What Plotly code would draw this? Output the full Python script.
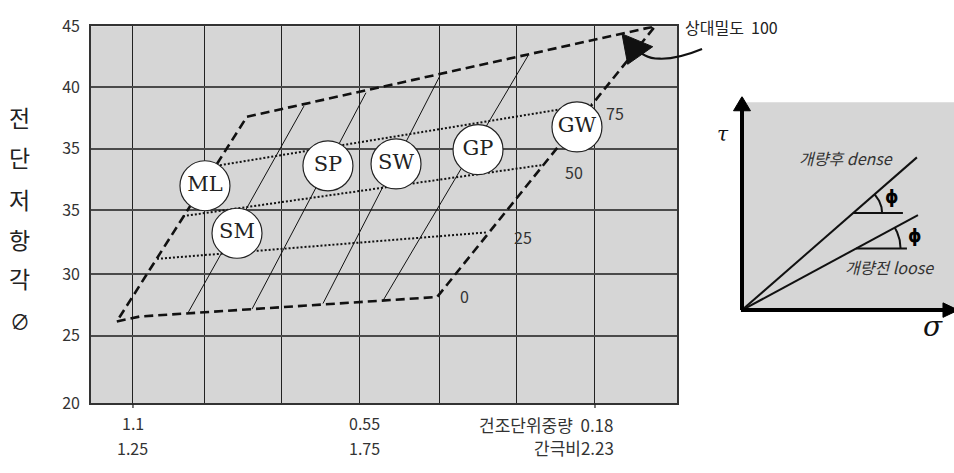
import numpy as np
import plotly.graph_objects as go

W, H = 954, 473
KR = "Noto Sans CJK KR"
SERIF = "DejaVu Serif"

# ---------------- main chart (grid-unit coordinates) ----------------
x_grid = [0.0, 0.935, 1.935, 2.948, 3.987, 4.987, 6.0]
y_grid = [0.0, 1.073, 2.055, 3.068, 4.050, 5.033, 6.0]
y_tick_labels = ["20", "25", "30", "35", "35", "40", "45"]

x_label_x = [0.0, 3.01]
dry_unit_weight_labels = ["1.1", "0.55"]
void_ratio_labels = ["1.25", "1.75"]
end_label_x = 6.27
end_dry_unit_weight = "건조단위중량&nbsp;&nbsp;0.18"
end_void_ratio = "간극비2.23"

y_title_chars = ["전", "단", "저", "항", "각", "∅"]
y_title_y = [4.549, 3.914, 3.249, 2.614, 1.995, 1.300]
y_title_x = -1.468

# relative-density envelope (0 % bottom edge, 100 % top edge)
envelope_x = [-0.21, 0.09, 3.95, 6.78, 1.48, -0.21]
envelope_y = [1.30, 1.38, 1.69, 6.00, 4.56, 1.30]

# intermediate relative-density lines (25, 50, 75 %)
dr_start_x = [0.312, 0.649, 1.078]
dr_start_y = [2.297, 2.977, 3.778]
dr_end_x = [4.610, 5.325, 5.961]
dr_end_y = [2.720, 3.793, 4.760]

dr_labels = ["0", "25", "50", "75"]
dr_label_x = [4.299, 5.065, 5.727, 6.260]
dr_label_y = [1.708, 2.645, 3.687, 4.624]

# soil-type lines running across the density range
soil_line_x0 = [0.714, 1.545, 2.468, 3.247]
soil_line_y0 = [1.436, 1.496, 1.587, 1.632]
soil_line_x1 = [2.221, 3.026, 3.987, 5.130]
soil_line_y1 = [4.730, 4.942, 5.214, 5.531]

soil_names = ["ML", "SM", "SP", "SW", "GP", "GW"]
soil_x = [0.935, 1.351, 2.532, 3.416, 4.481, 5.766]
soil_y = [3.461, 2.705, 3.778, 3.808, 4.035, 4.398]

max_density_label = "상대밀도&nbsp;&nbsp;100"
max_density_label_pos = (7.143, 5.985)
pointer_tip = (6.351, 5.879)
pointer_wings = [(6.750, 5.675), (6.425, 5.395)]
pointer_tail = [(6.545, 5.682), (6.623, 5.425), (6.974, 5.425), (7.390, 5.637)]

# ---------------- inset: Mohr-Coulomb envelopes ----------------
envelope_names = ["dense", "loose"]
env_end_x = [8.25, 8.30]
env_end_y = [7.59, 4.72]
angle_vertex_x = [5.24, 5.38]
angle_leg_end_x = [7.59, 7.78]
angle_radius = [1.37, 2.10]
phi_label_x = [7.08, 8.16]
phi_label_y = [5.61, 3.68]
env_text = ["개량후 dense", "개량전 loose"]
env_text_x = [2.59, 4.76]
env_text_y = [7.55, 2.12]

MAIN_XDOM = [91 / W, 677 / W]
MAIN_YDOM = [1 - 411 / H, 1 - 14 / H]
MAIN_XRANGE = [-0.545, 7.065]
MAIN_YRANGE = [0.0, 6.0]
INSET_XDOM = [700 / W, 1.0]
INSET_YDOM = [1 - 343 / H, 1 - 88 / H]
INSET_XRANGE = [-1.981, 10.0]
INSET_YRANGE = [-1.415, 10.613]


def _lin(v, rng, dom):
    return dom[0] + (v - rng[0]) / (rng[1] - rng[0]) * (dom[1] - dom[0])


def main_paper(x, y):
    return _lin(x, MAIN_XRANGE, MAIN_XDOM), _lin(y, MAIN_YRANGE, MAIN_YDOM)


def inset_paper(x, y):
    return _lin(x, INSET_XRANGE, INSET_XDOM), _lin(y, INSET_YRANGE, INSET_YDOM)


fig = go.Figure()
annotations = []
shapes = []


def note(text, pos, size=16, color="#333333", xanchor="center", family=KR):
    annotations.append(dict(
        text=text, x=pos[0], y=pos[1], xref="paper", yref="paper",
        xanchor=xanchor, yanchor="middle", showarrow=False,
        font=dict(family=family, size=size, color=color)))


# grey plotting field of the main chart
shapes.append(dict(type="rect", xref="x domain", yref="y domain", x0=0, x1=1, y0=0, y1=1,
                   fillcolor="#d6d6d6", line=dict(width=0), layer="below"))

# soil-type lines
for x0, y0, x1, y1 in zip(soil_line_x0, soil_line_y0, soil_line_x1, soil_line_y1):
    fig.add_trace(go.Scatter(x=[x0, x1], y=[y0, y1], mode="lines",
                             line=dict(color="#111111", width=1), hoverinfo="skip"))

# relative-density lines
for x0, y0, x1, y1 in zip(dr_start_x, dr_start_y, dr_end_x, dr_end_y):
    fig.add_trace(go.Scatter(x=[x0, x1], y=[y0, y1], mode="lines",
                             line=dict(color="#111111", width=2, dash="2px,2px"), hoverinfo="skip"))

fig.add_trace(go.Scatter(x=envelope_x, y=envelope_y, mode="lines",
                         line=dict(color="#111111", width=2.6, dash="9px,5px"), hoverinfo="skip"))

# soil symbols
fig.add_trace(go.Scatter(
    x=soil_x, y=soil_y, mode="markers+text", text=soil_names, textposition="middle center",
    marker=dict(size=50, color="white", line=dict(color="#222222", width=1.2)),
    textfont=dict(family=SERIF, size=21, color="#222222"), hoverinfo="skip"))

for t, x, y in zip(dr_labels, dr_label_x, dr_label_y):
    note(t, main_paper(x, y))

for xv, a, b in zip(x_label_x, dry_unit_weight_labels, void_ratio_labels):
    px, _ = main_paper(xv, 0)
    note(a, (px, 1 - 432 / H))
    note(b, (px, 1 - 458 / H))
px_end, _ = main_paper(end_label_x, 0)
note(end_dry_unit_weight, (px_end, 1 - 433 / H), size=17, xanchor="right")
note(end_void_ratio, (px_end, 1 - 458 / H), size=17, xanchor="right")

for ch, yv in zip(y_title_chars, y_title_y):
    note(ch, main_paper(y_title_x, yv), size=23 if ch != "∅" else 20, color="#222222")

note(max_density_label, main_paper(*max_density_label_pos), size=16, color="#222222", xanchor="left")

# curved pointer to the 100 % line
tp = [main_paper(*p) for p in pointer_tail]
shapes.append(dict(type="path", xref="paper", yref="paper",
                   path="M {:.5f},{:.5f} C {:.5f},{:.5f} {:.5f},{:.5f} {:.5f},{:.5f}".format(
                       *tp[0], *tp[1], *tp[2], *tp[3]),
                   line=dict(color="#111111", width=2.2)))
tip = main_paper(*pointer_tip)
w1 = main_paper(*pointer_wings[0])
w2 = main_paper(*pointer_wings[1])
shapes.append(dict(type="path", xref="paper", yref="paper",
                   path="M {:.5f},{:.5f} L {:.5f},{:.5f} L {:.5f},{:.5f} Z".format(*tip, *w1, *w2),
                   fillcolor="#111111", line=dict(color="#111111", width=1)))

# short tick stubs under the outer grid columns
for xv in (x_grid[0], x_grid[-1]):
    shapes.append(dict(type="line", xref="x", yref="paper", x0=xv, x1=xv,
                       y0=MAIN_YDOM[0], y1=MAIN_YDOM[0] - 5 / H,
                       line=dict(color="#222222", width=1.2)))

# ---------------- inset ----------------
shapes.append(dict(type="rect", xref="x2", yref="y2", x0=0.05, x1=10.3, y0=0, y1=10.33,
                   fillcolor="#d6d6d6", line=dict(width=0), layer="below"))

for ex, ey, vx, lx, r in zip(env_end_x, env_end_y, angle_vertex_x, angle_leg_end_x, angle_radius):
    fig.add_trace(go.Scatter(x=[0, ex], y=[0, ey], mode="lines", xaxis="x2", yaxis="y2",
                             line=dict(color="#111111", width=2), hoverinfo="skip"))
    vy = vx * ey / ex
    fig.add_trace(go.Scatter(x=[vx, lx], y=[vy, vy], mode="lines", xaxis="x2", yaxis="y2",
                             line=dict(color="#111111", width=2), hoverinfo="skip"))
    th = np.linspace(0, np.arctan2(ey, ex), 40)
    fig.add_trace(go.Scatter(x=vx + r * np.cos(th), y=vy + r * np.sin(th), mode="lines",
                             xaxis="x2", yaxis="y2",
                             line=dict(color="#111111", width=2), hoverinfo="skip"))

# tau and sigma axes with arrowheads
fig.add_trace(go.Scatter(x=[0, 0], y=[0, 9.95], mode="lines", xaxis="x2", yaxis="y2",
                         line=dict(color="#000000", width=4), hoverinfo="skip"))
fig.add_trace(go.Scatter(x=[-0.4, 0, 0.4, -0.4], y=[9.906, 10.613, 9.906, 9.906], mode="lines",
                         fill="toself", fillcolor="#000000", xaxis="x2", yaxis="y2",
                         line=dict(color="#000000", width=1), hoverinfo="skip"))
fig.add_trace(go.Scatter(x=[-0.05, 9.5], y=[0, 0], mode="lines", xaxis="x2", yaxis="y2",
                         line=dict(color="#000000", width=4), hoverinfo="skip"))
fig.add_trace(go.Scatter(x=[9.48, 10.2, 9.48, 9.48], y=[-0.36, 0, 0.36, -0.36], mode="lines",
                         fill="toself", fillcolor="#000000", xaxis="x2", yaxis="y2",
                         line=dict(color="#000000", width=1), hoverinfo="skip"))

for t, x, y in zip(env_text, env_text_x, env_text_y):
    note("<i>" + t + "</i>", inset_paper(x, y), size=16, color="#333333", xanchor="left")
for x, y in zip(phi_label_x, phi_label_y):
    note("<b>ϕ</b>", inset_paper(x, y), size=17, color="#000000", family="DejaVu Sans")
note("<i>τ</i>", inset_paper(-0.9, 8.77), size=20, color="#111111", family=SERIF)
note("<i>σ</i>", inset_paper(9.0, -0.8), size=28, color="#111111", family=SERIF)

fig.update_layout(
    width=W, height=H, margin=dict(l=0, r=0, t=0, b=0),
    paper_bgcolor="white", plot_bgcolor="rgba(0,0,0,0)", showlegend=False,
    annotations=annotations, shapes=shapes,
    xaxis=dict(domain=MAIN_XDOM, range=MAIN_XRANGE, tickvals=x_grid, showticklabels=False,
               showgrid=True, gridcolor="#222222", gridwidth=1.2, zeroline=False, ticks="",
               showline=True, mirror=True, linecolor="#333333", linewidth=1.6, fixedrange=True),
    yaxis=dict(domain=MAIN_YDOM, range=MAIN_YRANGE, tickvals=y_grid, ticktext=y_tick_labels,
               showgrid=True, gridcolor="#4a4a4a", gridwidth=1.8, zeroline=False, ticks="",
               ticklabelstandoff=6, tickfont=dict(family=KR, size=16, color="#333333"),
               showline=True, mirror=True, linecolor="#333333", linewidth=1.6, fixedrange=True),
    xaxis2=dict(domain=INSET_XDOM, range=INSET_XRANGE, visible=False, anchor="y2", fixedrange=True),
    yaxis2=dict(domain=INSET_YDOM, range=INSET_YRANGE, visible=False, anchor="x2", fixedrange=True),
)

fig.write_html("out.html")
